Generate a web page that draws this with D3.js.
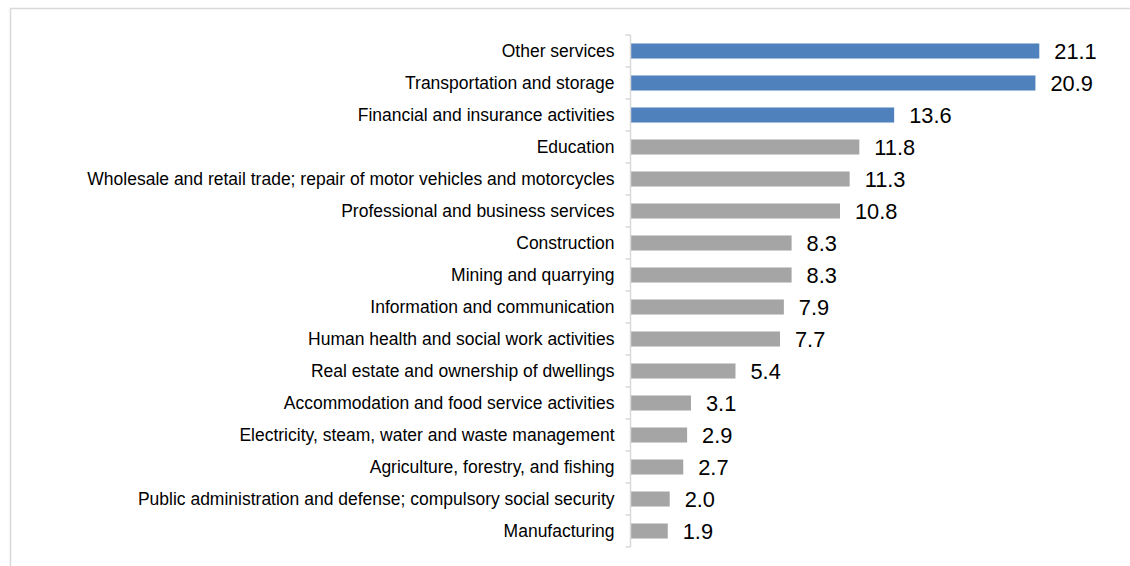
<!DOCTYPE html>
<html>
<head>
<meta charset="utf-8">
<script src="https://cdn.jsdelivr.net/npm/d3@7"></script>
<style>
    body { margin: 0; background: #fff; }
    svg { display: block; font-family: "Liberation Sans", Arial, sans-serif; }
</style>
</head>
<body>
<svg id="chart" width="1130" height="566"></svg>
<script>
// categories from top to bottom
const categories = [
    'Other services',
    'Transportation and storage',
    'Financial and insurance activities',
    'Education',
    'Wholesale and retail trade; repair of motor vehicles and motorcycles',
    'Professional and business services',
    'Construction',
    'Mining and quarrying',
    'Information and communication',
    'Human health and social work activities',
    'Real estate and ownership of dwellings',
    'Accommodation and food service activities',
    'Electricity, steam, water and waste management',
    'Agriculture, forestry, and fishing',
    'Public administration and defense; compulsory social security',
    'Manufacturing'
];
const values = [21.1, 20.9, 13.6, 11.8, 11.3, 10.8, 8.3, 8.3, 7.9, 7.7, 5.4, 3.1, 2.9, 2.7, 2.0, 1.9];
// first three bars are highlighted
const highlighted = ['Other services', 'Transportation and storage', 'Financial and insurance activities'];

let data = categories.map((c, i) => ({name: c, value: values[i]}));

let svg = d3.select('#chart');

// light frame (only top and left edges are visible)
svg.append('rect')
    .attr('x', 10.5).attr('y', 8.5)
    .attr('width', 1140).attr('height', 600)
    .attr('fill', 'none')
    .attr('stroke', '#d9d9d9')
    .attr('stroke-width', 1.5);

let axisX = 630.5;
let plotTop = 35, plotBottom = 547;
let labelSize = 17.5, valueSize = 21.8;

let xScale = d3.scaleLinear().domain([0, 22]).range([631, 631 + 22 * 19.35]);
let yScale = d3.scaleBand()
    .domain(categories)
    .range([plotTop, plotBottom])
    .paddingInner(0.53)
    .paddingOuter(0.265);

let mid = d => yScale(d) + yScale.bandwidth() / 2;

// bars
svg.append('g').selectAll('rect')
    .data(data)
    .enter().append('rect')
    .attr('x', xScale(0))
    .attr('y', d => yScale(d.name))
    .attr('width', d => xScale(d.value) - xScale(0))
    .attr('height', yScale.bandwidth())
    .attr('fill', d => highlighted.includes(d.name) ? '#4f81bd' : '#a5a5a5');

// value labels
svg.append('g').selectAll('text')
    .data(data)
    .enter().append('text')
    .attr('x', d => xScale(d.value) + 15)
    .attr('y', d => mid(d.name) + valueSize * 0.358)
    .attr('font-size', valueSize)
    .attr('fill', '#000')
    .text(d => d.value.toFixed(1));

// category axis: line with ticks between bands
let axis = svg.append('g');
axis.append('line')
    .attr('x1', axisX).attr('x2', axisX)
    .attr('y1', plotTop).attr('y2', plotBottom)
    .attr('stroke', '#d9d9d9').attr('stroke-width', 1.5);

let step = yScale.step();
axis.selectAll('line.tick')
    .data(d3.range(categories.length + 1))
    .enter().append('line')
    .attr('class', 'tick')
    .attr('x1', axisX - 5).attr('x2', axisX)
    .attr('y1', i => plotTop + i * step).attr('y2', i => plotTop + i * step)
    .attr('stroke', '#d9d9d9').attr('stroke-width', 1.5);

axis.selectAll('text')
    .data(categories)
    .enter().append('text')
    .attr('x', axisX - 16)
    .attr('y', d => mid(d) + labelSize * 0.358)
    .attr('text-anchor', 'end')
    .attr('font-size', labelSize)
    .attr('fill', '#000')
    .text(d => d);
</script>
</body>
</html>
